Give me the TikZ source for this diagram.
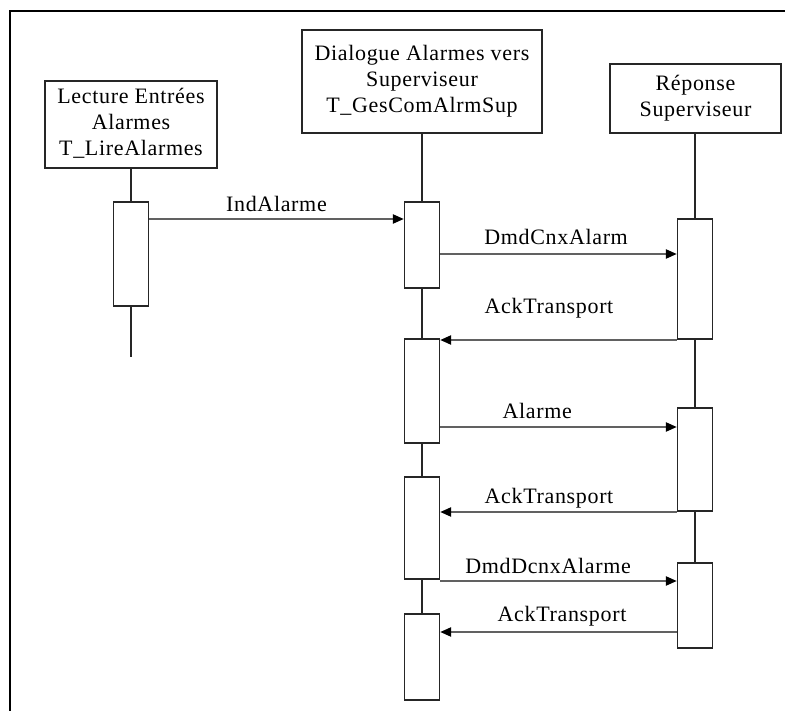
\documentclass[tikz,border=0pt]{standalone}
\usepackage{fontspec}
\setmainfont{Liberation Serif}[LetterSpace=3]
\usetikzlibrary{arrows.meta}

% centred multi-line caption lowered by #1
\newcommand{\lowstack}[2]{\raisebox{-#1}{\begin{tabular}{@{}c@{}}#2\end{tabular}}}

\begin{document}
\begin{tikzpicture}[x=1pt,y=-1pt,
  every node/.style={font=\fontsize{22}{26}\selectfont, inner sep=0pt},
  head/.style={draw=black!85, line width=1.3pt, fill=white, align=center},
  bar/.style={draw=black!85, line width=1.3pt, fill=white, minimum width=35pt},
  life/.style={draw=black!85, line width=1.3pt},
  msg/.style={draw=black!62, line width=2.2pt,
    -{Triangle[length=11pt,width=9pt,color=black]}},
  lbl/.style={anchor=base}
]
\useasboundingbox (0,0) rectangle (785,711);
\fill[white] (0,0) rectangle (785,711);

% outer frame (top and left edges)
\draw[black, line width=1.5pt] (785,11) -- (10,11) -- (10,711);

% object headers
\node[head, minimum width=172pt, minimum height=87pt] (h1) at (131,124.5)
  {\lowstack{4pt}{Lecture Entrées\\Alarmes\\T\_LireAlarmes}};
\node[head, minimum width=240pt, minimum height=103pt] (h2) at (422,81.5)
  {\lowstack{0pt}{Dialogue Alarmes vers\\Superviseur\\T\_GesComAlrmSup}};
\node[head, minimum width=171pt, minimum height=69pt] (h3) at (695.5,98.5)
  {\lowstack{2pt}{Réponse\\Superviseur}};

% activation bars
\node[bar, minimum height=104pt] (a1) at (131,254) {};
\node[bar, minimum height=86pt]  (d1) at (422,245) {};
\node[bar, minimum height=104pt] (d2) at (422,391) {};
\node[bar, minimum height=102pt] (d3) at (422,528) {};
\node[bar, minimum height=86pt]  (d4) at (422,657) {};
\node[bar, minimum height=120pt] (r1) at (695,279) {};
\node[bar, minimum height=103pt] (r2) at (695,459.5) {};
\node[bar, minimum height=85pt]  (r3) at (695,605.5) {};

% lifelines
\coordinate (e1) at (131,357);
\draw[life] (h1.south) -- (a1.north);
\draw[life] (a1.south) -- (e1);
\draw[life] (h2.south -| d1.north) -- (d1.north);
\draw[life] (d1.south) -- (d2.north);
\draw[life] (d2.south) -- (d3.north);
\draw[life] (d3.south) -- (d4.north);
\draw[life] (h3.south -| r1.north) -- (r1.north);
\draw[life] (r1.south) -- (r2.north);
\draw[life] (r2.south) -- (r3.north);

% message levels
\coordinate (m1) at (0,219);
\coordinate (m2) at (0,254);
\coordinate (m3) at (0,340);
\coordinate (m4) at (0,427);
\coordinate (m5) at (0,512);
\coordinate (m6) at (0,581);
\coordinate (m7) at (0,632);

% messages
\draw[msg] (a1.east |- m1) -- (d1.west |- m1)
  node[lbl, pos=0.50, yshift=7pt] {IndAlarme};
\draw[msg] (d1.east |- m2) -- (r1.west |- m2)
  node[lbl, pos=0.49, yshift=9pt] {DmdCnxAlarm};
\draw[msg] (r1.west |- m3) -- (d2.east |- m3)
  node[lbl, pos=0.54, yshift=26pt] {AckTransport};
\draw[msg] (d2.east |- m4) -- (r2.west |- m4)
  node[lbl, pos=0.41, yshift=9pt] {Alarme};
\draw[msg] (r2.west |- m5) -- (d3.east |- m5)
  node[lbl, pos=0.54, yshift=9pt] {AckTransport};
\draw[msg] (d3.east |- m6) -- (r3.west |- m6)
  node[lbl, pos=0.456, yshift=8pt] {DmdDcnxAlarme};
\draw[msg] (r3.west |- m7) -- (d4.east |- m7)
  node[lbl, pos=0.485, yshift=11pt] {AckTransport};
\end{tikzpicture}
\end{document}
